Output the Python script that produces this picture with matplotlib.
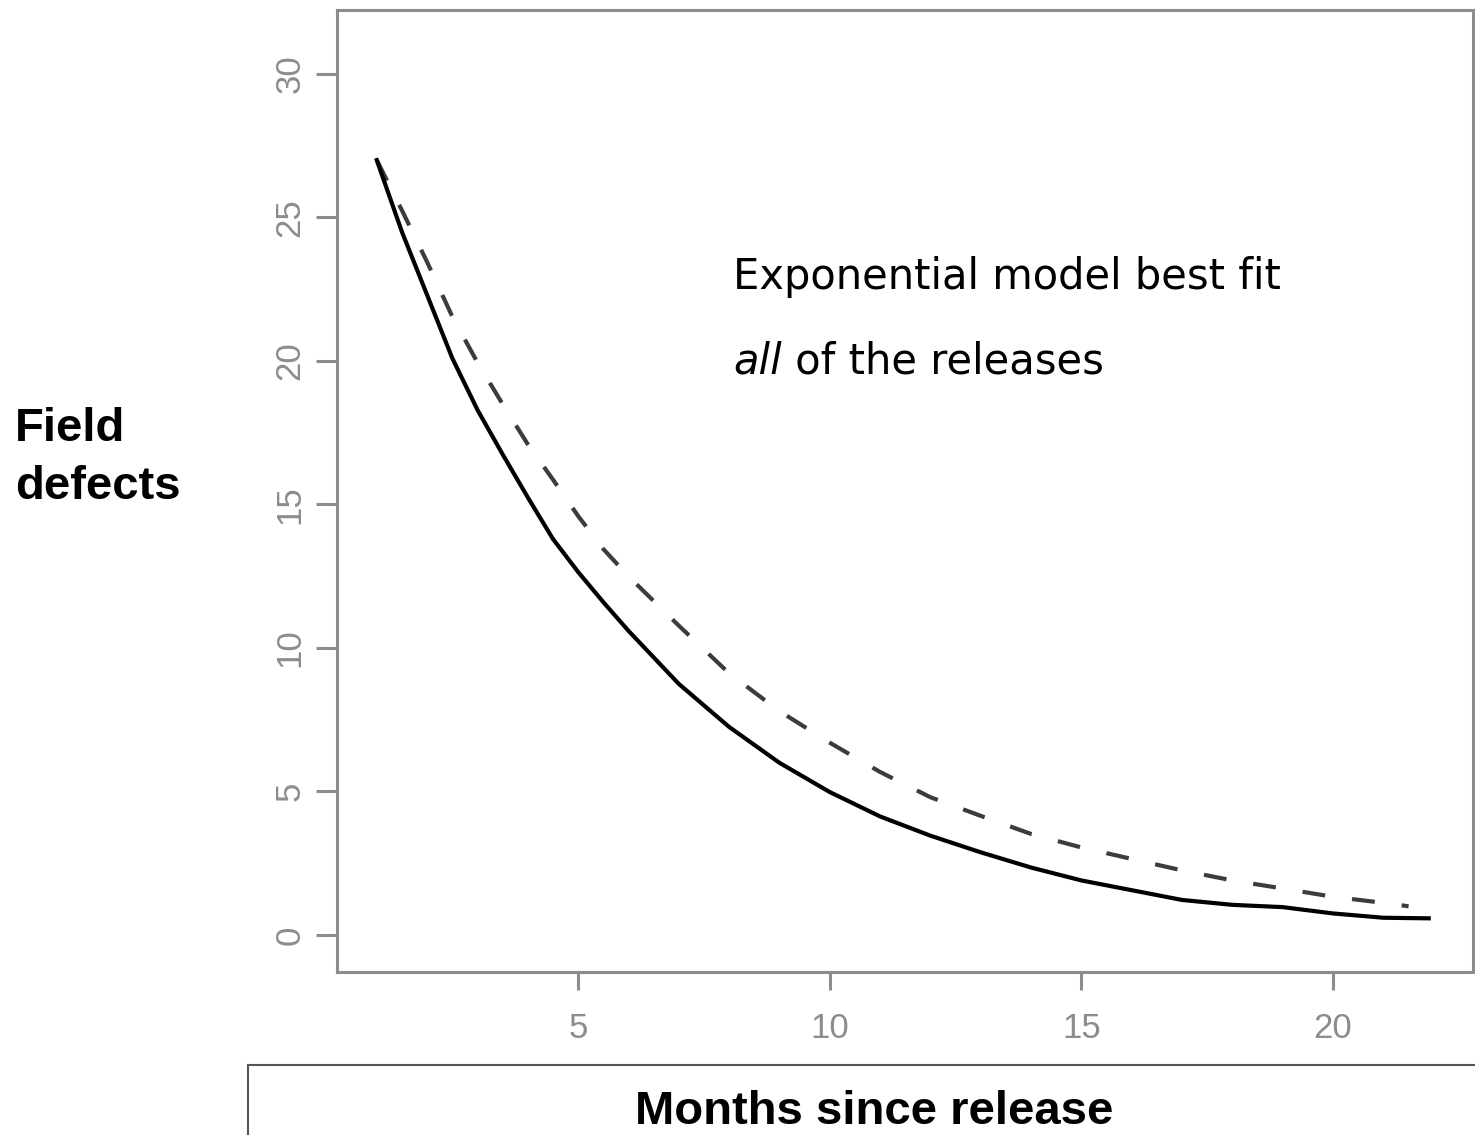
import matplotlib.pyplot as plt
from matplotlib.lines import Line2D

# months since release and field defects
obs_months = [1, 1.5, 2, 2.5, 3, 3.5, 4, 4.5, 5, 5.5, 6, 7, 8, 9, 10, 11, 12, 13, 14,
              15, 16, 17, 18, 19, 20, 21, 21.9]
obs_defects = [27.0, 24.5, 22.3, 20.1, 18.3, 16.75, 15.25, 13.8, 12.65, 11.6, 10.6, 8.75,
               7.25, 6.0, 4.98, 4.13, 3.46, 2.88, 2.35, 1.9, 1.56, 1.22, 1.05, 0.97,
               0.75, 0.6, 0.58]

model_months = [1, 1.5, 2, 2.5, 3, 3.5, 4, 4.5, 5, 5.5, 6, 7, 8, 9, 10, 11, 12, 13, 14,
                15, 16, 17, 18, 19, 20, 21, 21.5]
model_defects = [27.0, 25.25, 23.45, 21.55, 19.95, 18.5, 17.1, 15.87, 14.6, 13.45, 12.5,
                 10.78, 9.12, 7.8, 6.7, 5.68, 4.8, 4.15, 3.52, 3.05, 2.65, 2.25, 1.9,
                 1.62, 1.33, 1.12, 1.0]

x_ticks = [5, 10, 15, 20]
y_ticks = [0, 5, 10, 15, 20, 25, 30]

W, H = 1475, 1135
fig = plt.figure(figsize=(W / 100, H / 100), dpi=100)
ax = fig.add_axes([337 / W, 1 - 972 / H, (1473 - 337) / W, (972 - 10) / H])

ax.plot(model_months, model_defects, color="#3c3c3c", lw=3, linestyle=(0, (5.5, 6.5)))
ax.plot(obs_months, obs_defects, color="black", lw=3)

ax.set_xlim(0.21, 22.78)
ax.set_ylim(-1.29, 32.23)
ax.set_xticks(x_ticks)
ax.set_yticks(y_ticks)

gray = "#8c8c8c"
for s in ax.spines.values():
    s.set_color(gray)
    s.set_linewidth(2.2)
ax.tick_params(colors=gray, width=2.2, labelsize=25)
ax.tick_params(axis="y", length=15, pad=7, labelrotation=90)
ax.tick_params(axis="x", length=13, pad=16)
for lab in ax.get_xticklabels() + ax.get_yticklabels():
    lab.set_family(["Liberation Sans Narrow", "Liberation Sans"])
for lab in ax.get_yticklabels():
    lab.set_va("center")

# annotation
t1 = ax.text(8.08, 22.5, "Exponential model best fit", fontsize=30,
             family="DejaVu Sans", va="baseline")
t2 = ax.text(8.08, 19.55, "all", fontsize=30, family="DejaVu Sans",
             style="italic", va="baseline")
ax.annotate(" of the releases", xy=(1, 0), xycoords=t2, fontsize=30,
            family="DejaVu Sans", va="bottom")

# axis labels
fig.text(15 / W, 1 - 441 / H, "Field", fontsize=34, weight="bold",
         family="Liberation Sans", va="baseline")
fig.text(15 / W, 1 - 499 / H, "defects", fontsize=34, weight="bold",
         family="Liberation Sans", va="baseline")

# box round the x label
fig.add_artist(Line2D([248 / W, 1.0], [1 - 1065 / H, 1 - 1065 / H],
                      transform=fig.transFigure, color="#555555", lw=1.5))
fig.add_artist(Line2D([248 / W, 248 / W], [0, 1 - 1065 / H],
                      transform=fig.transFigure, color="#555555", lw=1.5))
fig.text(874 / W, 1 - 1124 / H, "Months since release", fontsize=34, weight="bold",
         family="Liberation Sans", ha="center", va="baseline")

fig.savefig("out.png", dpi=100)
